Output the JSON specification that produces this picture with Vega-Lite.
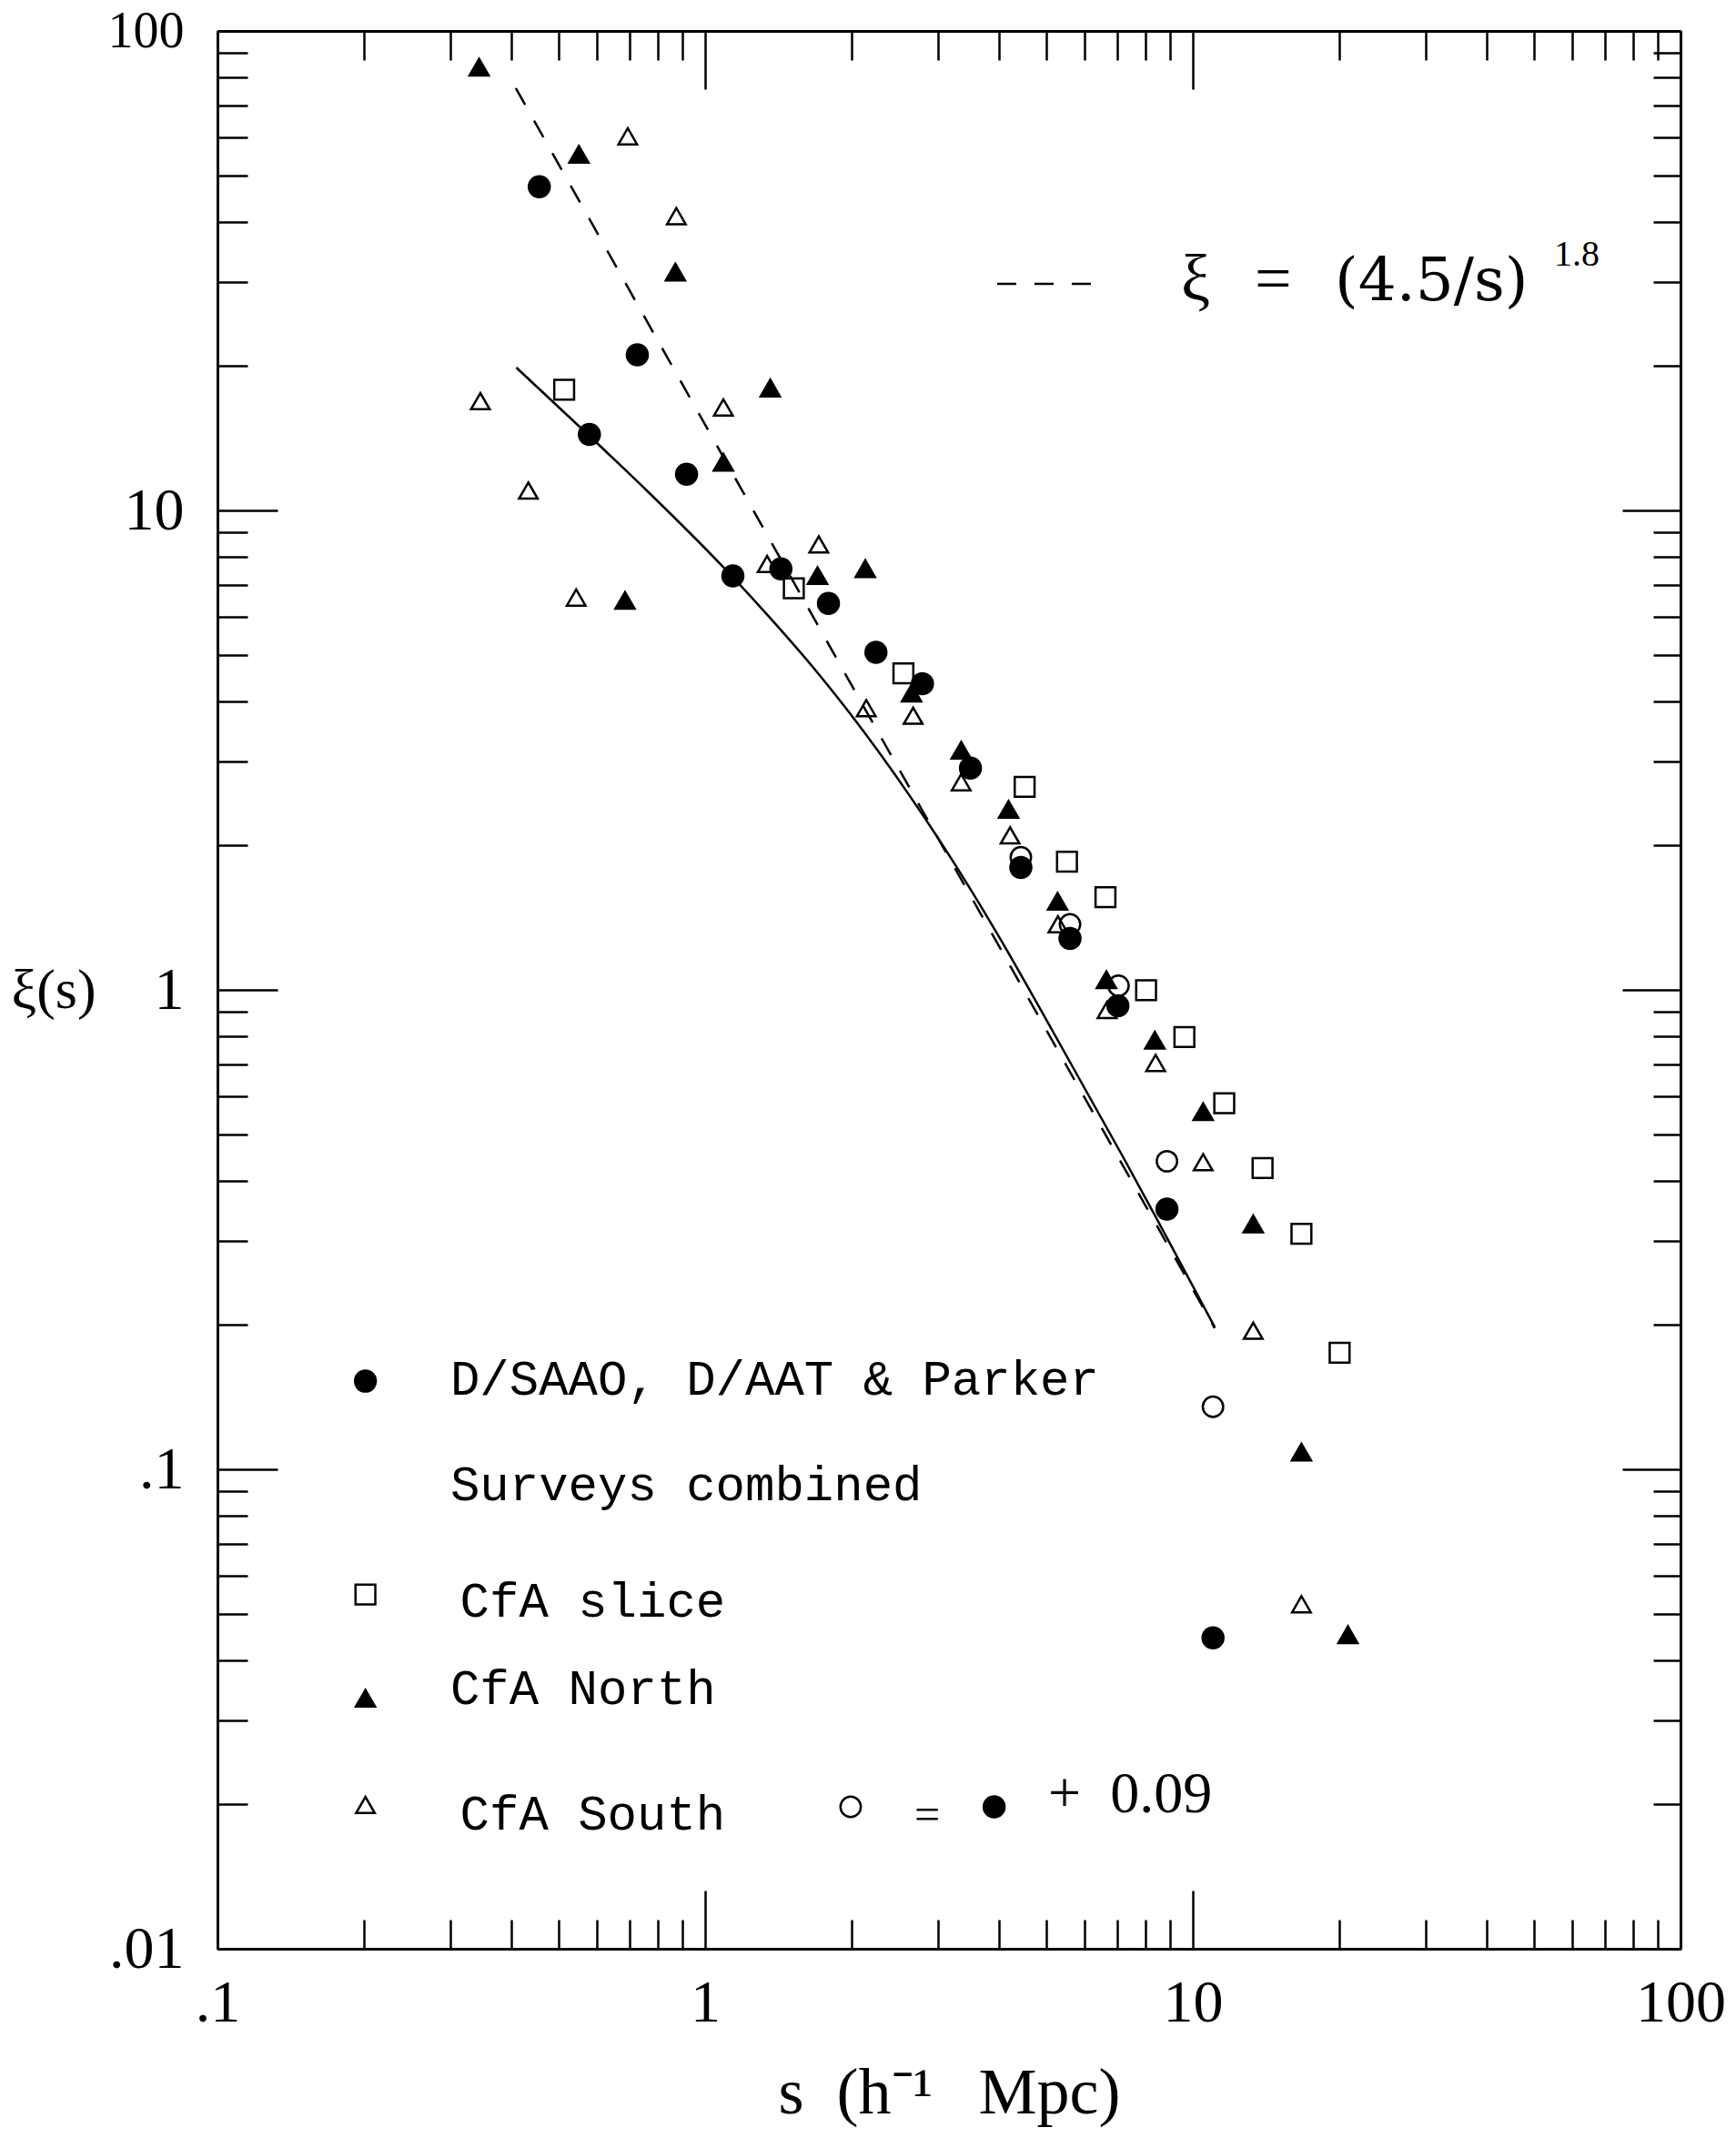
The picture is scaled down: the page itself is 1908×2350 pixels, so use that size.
{
  "$schema": "https://vega.github.io/schema/vega-lite/v6.json",
  "width": 1608,
  "height": 2108,
  "autosize": {"type": "none"},
  "padding": {"left": 239, "top": 34, "right": 61, "bottom": 208},
  "background": "white",
  "config": {
    "view": {"stroke": null},
    "axis": {
      "grid": false,
      "domainColor": "black",
      "domainWidth": 3,
      "tickColor": "black",
      "tickWidth": 2.5,
      "labelColor": "black",
      "titleColor": "black",
      "labelFont": "Liberation Serif",
      "titleFont": "Liberation Serif",
      "titleFontWeight": "normal",
      "labelFlush": false,
      "labelOverlap": false,
      "labelBound": false
    }
  },
  "datasets": {
    "obs": [
      {"s": 0.457, "xi": 47.3, "set": "DSAAO"},
      {"s": 0.579, "xi": 14.4, "set": "DSAAO"},
      {"s": 0.726, "xi": 21.1, "set": "DSAAO"},
      {"s": 0.916, "xi": 11.9, "set": "DSAAO"},
      {"s": 1.14, "xi": 7.3, "set": "DSAAO"},
      {"s": 1.43, "xi": 7.55, "set": "DSAAO"},
      {"s": 1.79, "xi": 6.4, "set": "DSAAO"},
      {"s": 2.24, "xi": 5.06, "set": "DSAAO"},
      {"s": 2.79, "xi": 4.35, "set": "DSAAO"},
      {"s": 3.5, "xi": 2.9, "set": "DSAAO"},
      {"s": 4.44, "xi": 1.8, "set": "DSAAO"},
      {"s": 5.6, "xi": 1.28, "set": "DSAAO"},
      {"s": 7.02, "xi": 0.926, "set": "DSAAO"},
      {"s": 8.85, "xi": 0.349, "set": "DSAAO"},
      {"s": 11.0, "xi": 0.0445, "set": "DSAAO"},
      {"s": 4.44, "xi": 1.89, "set": "DSAAO+0.09"},
      {"s": 5.6, "xi": 1.37, "set": "DSAAO+0.09"},
      {"s": 7.04, "xi": 1.02, "set": "DSAAO+0.09"},
      {"s": 8.85, "xi": 0.439, "set": "DSAAO+0.09"},
      {"s": 11.0, "xi": 0.135, "set": "DSAAO+0.09"},
      {"s": 0.514, "xi": 17.85, "set": "CfA slice"},
      {"s": 1.52, "xi": 6.88, "set": "CfA slice"},
      {"s": 2.55, "xi": 4.57, "set": "CfA slice"},
      {"s": 4.52, "xi": 2.65, "set": "CfA slice"},
      {"s": 5.52, "xi": 1.85, "set": "CfA slice"},
      {"s": 6.62, "xi": 1.56, "set": "CfA slice"},
      {"s": 8.02, "xi": 0.998, "set": "CfA slice"},
      {"s": 9.61, "xi": 0.797, "set": "CfA slice"},
      {"s": 11.6, "xi": 0.58, "set": "CfA slice"},
      {"s": 13.9, "xi": 0.425, "set": "CfA slice"},
      {"s": 16.7, "xi": 0.31, "set": "CfA slice"},
      {"s": 20.0, "xi": 0.175, "set": "CfA slice"},
      {"s": 0.344, "xi": 84, "set": "CfA North"},
      {"s": 0.551, "xi": 55.3, "set": "CfA North"},
      {"s": 0.685, "xi": 6.49, "set": "CfA North"},
      {"s": 0.869, "xi": 31.4, "set": "CfA North"},
      {"s": 1.09, "xi": 12.6, "set": "CfA North"},
      {"s": 1.36, "xi": 18.0, "set": "CfA North"},
      {"s": 1.7, "xi": 7.31, "set": "CfA North"},
      {"s": 2.13, "xi": 7.56, "set": "CfA North"},
      {"s": 2.65, "xi": 4.16, "set": "CfA North"},
      {"s": 3.35, "xi": 3.16, "set": "CfA North"},
      {"s": 4.19, "xi": 2.38, "set": "CfA North"},
      {"s": 5.28, "xi": 1.53, "set": "CfA North"},
      {"s": 6.65, "xi": 1.05, "set": "CfA North"},
      {"s": 8.36, "xi": 0.785, "set": "CfA North"},
      {"s": 10.5, "xi": 0.557, "set": "CfA North"},
      {"s": 13.3, "xi": 0.325, "set": "CfA North"},
      {"s": 16.7, "xi": 0.1086, "set": "CfA North"},
      {"s": 20.8, "xi": 0.0452, "set": "CfA North"},
      {"s": 0.346, "xi": 16.9, "set": "CfA South"},
      {"s": 0.434, "xi": 11.0, "set": "CfA South"},
      {"s": 0.544, "xi": 6.58, "set": "CfA South"},
      {"s": 0.694, "xi": 60.3, "set": "CfA South"},
      {"s": 0.873, "xi": 41.1, "set": "CfA South"},
      {"s": 1.09, "xi": 16.4, "set": "CfA South"},
      {"s": 1.34, "xi": 7.73, "set": "CfA South"},
      {"s": 1.71, "xi": 8.49, "set": "CfA South"},
      {"s": 2.14, "xi": 3.87, "set": "CfA South"},
      {"s": 2.67, "xi": 3.73, "set": "CfA South"},
      {"s": 3.35, "xi": 2.71, "set": "CfA South"},
      {"s": 4.22, "xi": 2.1, "set": "CfA South"},
      {"s": 5.29, "xi": 1.37, "set": "CfA South"},
      {"s": 6.67, "xi": 0.908, "set": "CfA South"},
      {"s": 8.39, "xi": 0.704, "set": "CfA South"},
      {"s": 10.5, "xi": 0.437, "set": "CfA South"},
      {"s": 13.3, "xi": 0.1945, "set": "CfA South"},
      {"s": 16.7, "xi": 0.0523, "set": "CfA South"}
    ],
    "keysym": [
      {"s": 0.2011, "xi": 0.1527, "set": "DSAAO"},
      {"s": 0.2011, "xi": 0.0548, "set": "CfA slice"},
      {"s": 0.2011, "xi": 0.0333, "set": "CfA North"},
      {"s": 0.2011, "xi": 0.01995, "set": "CfA South"},
      {"s": 1.988, "xi": 0.01977, "set": "DSAAO+0.09"},
      {"s": 3.914, "xi": 0.01977, "set": "DSAAO"}
    ],
    "solid": [
      {"s": 0.41, "xi": 19.86},
      {"s": 0.574, "xi": 14.42},
      {"s": 0.767, "xi": 10.89},
      {"s": 1.082, "xi": 7.67},
      {"s": 1.36, "xi": 5.96},
      {"s": 1.711, "xi": 4.55},
      {"s": 1.974, "xi": 3.79},
      {"s": 2.63, "xi": 2.535},
      {"s": 3.26, "xi": 1.82},
      {"s": 4.04, "xi": 1.271},
      {"s": 5.14, "xi": 0.826},
      {"s": 7.16, "xi": 0.452},
      {"s": 8.39, "xi": 0.3365},
      {"s": 11.09, "xi": 0.198}
    ],
    "dashed": [
      {"s": 0.409, "xi": 76},
      {"s": 2.104, "xi": 3.93},
      {"s": 11.09, "xi": 0.197}
    ],
    "dashkey": [
      {"s": 3.97, "xi": 29.68},
      {"s": 6.21, "xi": 29.68}
    ],
    "formula": [
      {"s": 9.456, "xi": 27.44, "t": "ξ"},
      {"s": 13.39, "xi": 27.44, "t": "="}
    ],
    "formula2": [
      {"s": 19.54, "xi": 27.44, "t": "(4.5/s)"}
    ],
    "sup": [
      {"s": 55.05, "xi": 32.33, "t": "1.8"}
    ],
    "keytext": [
      {"s": 0.3003, "xi": 0.1431, "t": "D/SAAO, D/AAT & Parker"},
      {"s": 0.3003, "xi": 0.0862, "t": "Surveys combined"},
      {"s": 0.3143, "xi": 0.04929, "t": "CfA slice"},
      {"s": 0.3003, "xi": 0.03236, "t": "CfA North"},
      {"s": 0.3143, "xi": 0.01774, "t": "CfA South"}
    ],
    "eqsign": [
      {"s": 2.686, "xi": 0.01772, "t": "="}
    ],
    "plustext": [
      {"s": 5.052, "xi": 0.0193, "t": "+\u20020.09"}
    ]
  },
  "layer": [
    {
      "data": {"name": "solid"},
      "mark": {"type": "line", "color": "black", "strokeWidth": 2.5, "interpolate": "monotone"},
      "encoding": {
        "x": {"field": "s", "type": "quantitative", "scale": {"type": "log", "domain": [0.1, 100], "nice": false},
          "axis": {"orient": "bottom", "values": [0.1, 1, 10, 100], "tickSize": -64, "labels": false, "title": null}},
        "y": {"field": "xi", "type": "quantitative", "scale": {"type": "log", "domain": [0.01, 100], "nice": false},
          "axis": {"orient": "left", "values": [0.01, 0.1, 1, 10, 100], "tickSize": -66, "labels": false, "title": null}}
      }
    },
    {
      "data": {"name": "dashed"},
      "mark": {"type": "line", "color": "black", "strokeWidth": 2.5, "strokeDash": [21, 20]},
      "encoding": {
        "x": {"field": "s", "type": "quantitative", "scale": {"type": "log", "domain": [0.1, 100], "nice": false},
          "axis": {"orient": "bottom", "values": [0.2, 0.3, 0.4, 0.5, 0.6, 0.7, 0.8, 0.9, 2, 3, 4, 5, 6, 7, 8, 9, 20, 30, 40, 50, 60, 70, 80, 90], "tickSize": -32, "labels": false, "title": null}},
        "y": {"field": "xi", "type": "quantitative", "scale": {"type": "log", "domain": [0.01, 100], "nice": false},
          "axis": {"orient": "left", "values": [0.02, 0.03, 0.04, 0.05, 0.06, 0.07, 0.08, 0.09, 0.2, 0.3, 0.4, 0.5, 0.6, 0.7, 0.8, 0.9, 2, 3, 4, 5, 6, 7, 8, 9, 20, 30, 40, 50, 60, 70, 80, 90], "tickSize": -33, "labels": false, "title": null}}
      }
    },
    {
      "data": {"name": "obs"},
      "mark": {"type": "point", "filled": true, "stroke": "black", "strokeWidth": 2.5, "opacity": 1},
      "encoding": {
        "x": {"field": "s", "type": "quantitative", "scale": {"type": "log", "domain": [0.1, 100], "nice": false},
          "axis": {"orient": "bottom", "values": [0.1, 1, 10, 100], "ticks": false, "format": "~g",
            "labelExpr": "datum.value < 1 ? replace(datum.label, '0.', '.') : datum.label",
            "labelFontSize": 66, "labelPadding": 27, "labelBaseline": "top", "labelAlign": "center",
            "title": "s\u2002(h⁻¹\u2002\u2009Mpc)", "titleFontSize": 72, "titleX": 804, "titleY": 158, "titleBaseline": "middle", "titleAlign": "center"}},
        "y": {"field": "xi", "type": "quantitative", "scale": {"type": "log", "domain": [0.01, 100], "nice": false},
          "axis": {"orient": "left", "values": [0.01, 0.1, 1, 10, 100], "ticks": false, "format": "~g",
            "labelExpr": "datum.value < 1 ? replace(datum.label, '0.', '.') : datum.label",
            "labelFontSize": {"condition": {"test": "datum.value == 100", "value": 56}, "value": 66},
            "labelPadding": 37, "labelAlign": "right", "labelBaseline": "middle",
            "title": "ξ(s)", "titleAngle": 0, "titleFontSize": 62, "titleX": -227, "titleY": 1054, "titleAlign": "left", "titleBaseline": "middle"}},
        "shape": {"field": "set", "type": "nominal", "legend": null,
          "scale": {"domain": ["DSAAO", "DSAAO+0.09", "CfA slice", "CfA North", "CfA South"], "range": ["circle", "circle", "square", "triangle-up", "triangle-up"]}},
        "fill": {"field": "set", "type": "nominal", "legend": null,
          "scale": {"domain": ["DSAAO", "DSAAO+0.09", "CfA slice", "CfA North", "CfA South"], "range": ["black", "transparent", "transparent", "black", "transparent"]}},
        "size": {"field": "set", "type": "nominal", "legend": null,
          "scale": {"domain": ["DSAAO", "DSAAO+0.09", "CfA slice", "CfA North", "CfA South"], "range": [529, 420, 324, 441, 441]}}
      }
    },
    {
      "data": {"name": "keysym"},
      "mark": {"type": "point", "filled": true, "stroke": "black", "strokeWidth": 2.5, "opacity": 1},
      "encoding": {
        "x": {"field": "s", "type": "quantitative", "scale": {"type": "log", "domain": [0.1, 100], "nice": false},
          "axis": {"orient": "top", "values": [0.1, 1, 10, 100], "tickSize": -64, "labels": false, "title": null}},
        "y": {"field": "xi", "type": "quantitative", "scale": {"type": "log", "domain": [0.01, 100], "nice": false},
          "axis": {"orient": "right", "values": [0.01, 0.1, 1, 10, 100], "tickSize": -64, "labels": false, "title": null}},
        "shape": {"field": "set", "type": "nominal", "legend": null},
        "fill": {"field": "set", "type": "nominal", "legend": null},
        "size": {"field": "set", "type": "nominal", "legend": null}
      }
    },
    {
      "data": {"name": "dashkey"},
      "mark": {"type": "line", "color": "black", "strokeWidth": 2.5, "strokeDash": [21, 20]},
      "encoding": {
        "x": {"field": "s", "type": "quantitative", "scale": {"type": "log", "domain": [0.1, 100], "nice": false},
          "axis": {"orient": "top", "values": [0.2, 0.3, 0.4, 0.5, 0.6, 0.7, 0.8, 0.9, 2, 3, 4, 5, 6, 7, 8, 9, 20, 30, 40, 50, 60, 70, 80, 90], "tickSize": -32, "labels": false, "title": null}},
        "y": {"field": "xi", "type": "quantitative", "scale": {"type": "log", "domain": [0.01, 100], "nice": false},
          "axis": {"orient": "right", "values": [0.02, 0.03, 0.04, 0.05, 0.06, 0.07, 0.08, 0.09, 0.2, 0.3, 0.4, 0.5, 0.6, 0.7, 0.8, 0.9, 2, 3, 4, 5, 6, 7, 8, 9, 20, 30, 40, 50, 60, 70, 80, 90], "tickSize": -30, "labels": false, "title": null}}
      }
    },
    {
      "data": {"name": "formula"},
      "mark": {"type": "text", "font": "Liberation Serif", "fontSize": 72, "align": "left", "baseline": "alphabetic", "color": "black"},
      "encoding": {
        "x": {"field": "s", "type": "quantitative", "axis": null},
        "y": {"field": "xi", "type": "quantitative", "axis": null},
        "text": {"field": "t"}
      }
    },
    {
      "data": {"name": "formula2"},
      "mark": {"type": "text", "font": "DejaVu Serif", "fontSize": 66, "align": "left", "baseline": "alphabetic", "color": "black"},
      "encoding": {
        "x": {"field": "s", "type": "quantitative", "axis": null},
        "y": {"field": "xi", "type": "quantitative", "axis": null},
        "text": {"field": "t"}
      }
    },
    {
      "data": {"name": "sup"},
      "mark": {"type": "text", "font": "Liberation Serif", "fontSize": 40, "align": "left", "baseline": "alphabetic", "color": "black"},
      "encoding": {
        "x": {"field": "s", "type": "quantitative", "axis": null},
        "y": {"field": "xi", "type": "quantitative", "axis": null},
        "text": {"field": "t"}
      }
    },
    {
      "data": {"name": "keytext"},
      "mark": {"type": "text", "font": "Liberation Mono", "fontSize": 54, "align": "left", "baseline": "alphabetic", "color": "black"},
      "encoding": {
        "x": {"field": "s", "type": "quantitative", "axis": null},
        "y": {"field": "xi", "type": "quantitative", "axis": null},
        "text": {"field": "t"}
      }
    },
    {
      "data": {"name": "eqsign"},
      "mark": {"type": "text", "font": "Liberation Serif", "fontSize": 50, "align": "left", "baseline": "alphabetic", "color": "black"},
      "encoding": {
        "x": {"field": "s", "type": "quantitative", "axis": null},
        "y": {"field": "xi", "type": "quantitative", "axis": null},
        "text": {"field": "t"}
      }
    },
    {
      "data": {"name": "plustext"},
      "mark": {"type": "text", "font": "Liberation Serif", "fontSize": 64, "align": "left", "baseline": "alphabetic", "color": "black"},
      "encoding": {
        "x": {"field": "s", "type": "quantitative", "axis": null},
        "y": {"field": "xi", "type": "quantitative", "axis": null},
        "text": {"field": "t"}
      }
    }
  ],
  "resolve": {"axis": {"x": "independent", "y": "independent"}}
}
